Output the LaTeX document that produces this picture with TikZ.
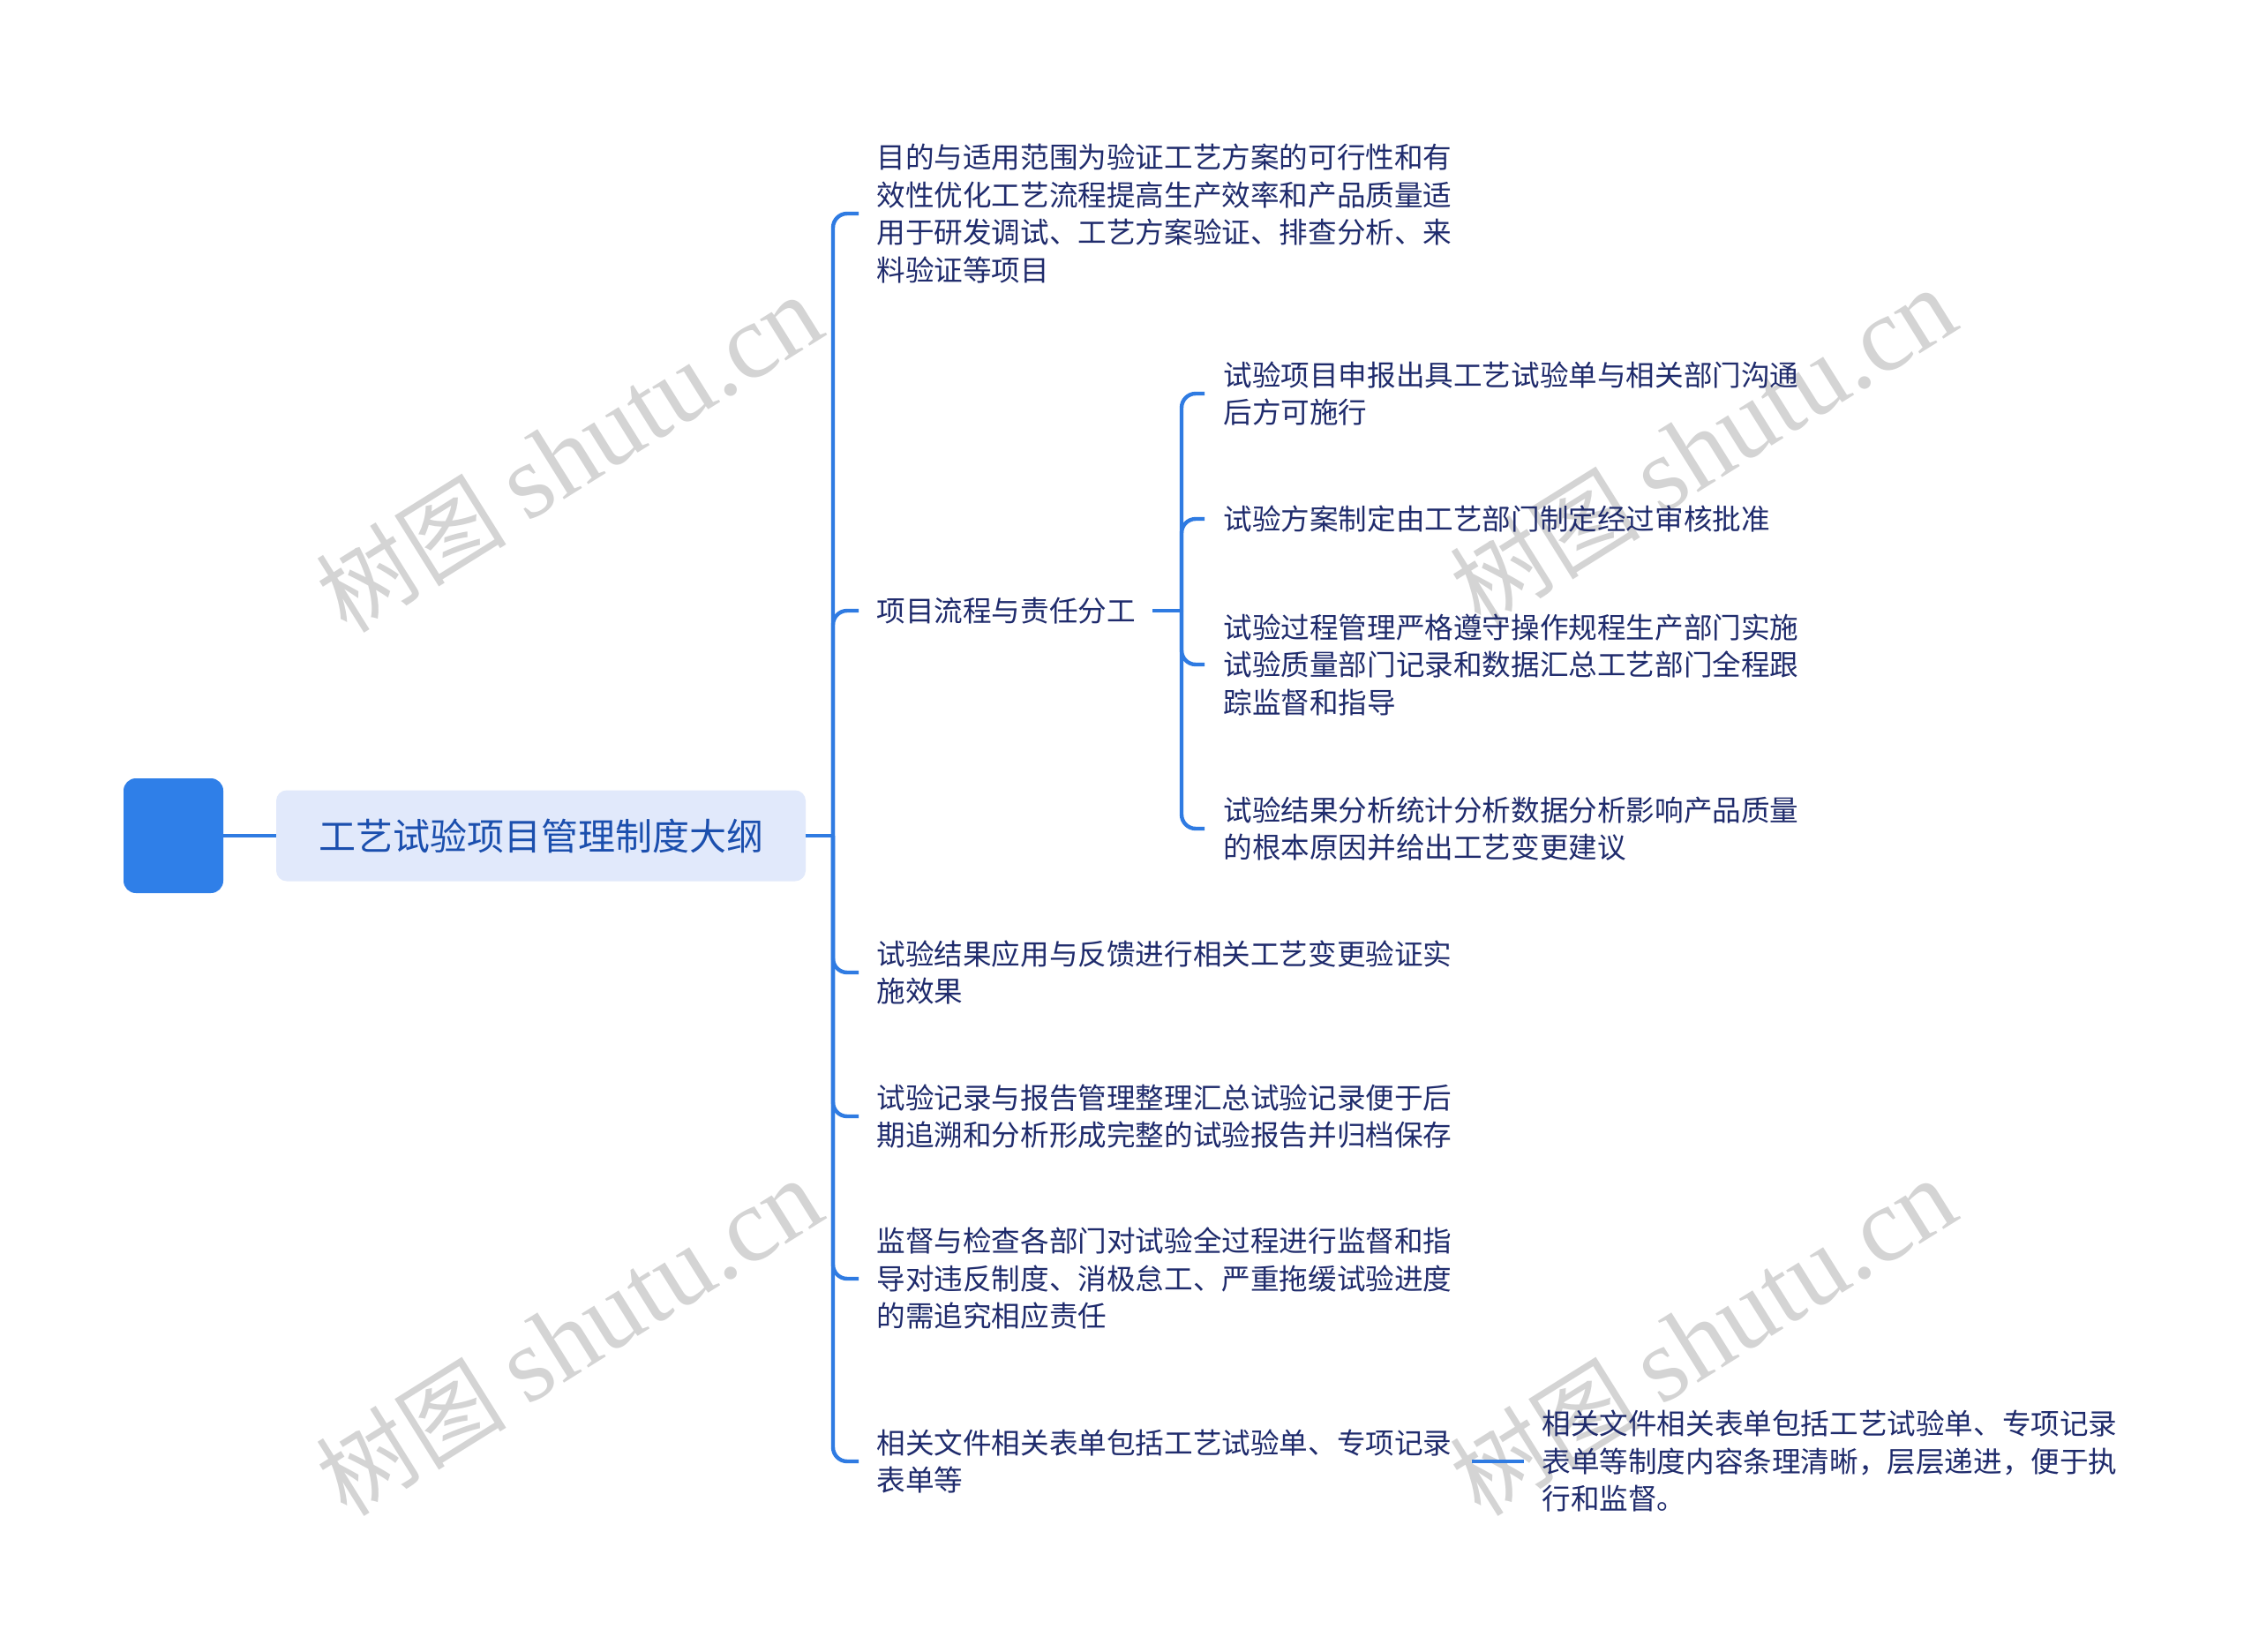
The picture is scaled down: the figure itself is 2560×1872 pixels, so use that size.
\documentclass[tikz,border=0pt]{standalone}
\usepackage{fontspec}
\newfontfamily\cjk{Noto Sans CJK SC}
\newfontfamily\wmlat{Liberation Serif}
\definecolor{lineblue}{HTML}{2F7BE2}
\definecolor{sqblue}{HTML}{2F7FE8}
\definecolor{titlefill}{HTML}{E1E9FB}
\definecolor{titletext}{HTML}{1B4FAE}
\definecolor{txtnavy}{HTML}{1F2B6C}
\definecolor{wmgray}{HTML}{D4D4D4}
\begin{document}
\begin{tikzpicture}[x=0.5pt,y=-0.5pt,
  conn/.style={draw=lineblue, line width=2.2pt, rounded corners=8pt},
  txt/.style={anchor=west, inner sep=0pt, align=left, text=txtnavy,
    font=\cjk\fontsize{16.3pt}{21.25pt}\selectfont},
  wm/.style={text=wmgray, rotate=32, inner sep=0pt}]
\useasboundingbox[fill=white] (0,0) rectangle (2560,1872);

% watermarks (behind everything)
\foreach \p [count=\k] in {(645,514),(1930,506),(645,1515),(1930,1515)}
  \node[wm] (wm\k) at \p {{\cjk\fontsize{54pt}{54pt}\selectfont 树图}\hspace{12pt}{\wmlat\fontsize{60pt}{60pt}\selectfont shutu.cn}};

% root and title
\node[fill=sqblue, rounded corners=7pt, minimum width=56.5pt, minimum height=65pt, inner sep=0pt] (sq) at (196.5,947) {};
\node[fill=titlefill, rounded corners=6pt, minimum width=300pt, minimum height=51.5pt, inner sep=0pt,
  text=titletext, font=\cjk\fontsize{21pt}{25pt}\selectfont] (title) at (613,947) {工艺试验项目管理制度大纲};

\coordinate (j) at (944,947);
\coordinate (j2) at (1339,692);

% first-level items
\node[txt] (i1) at (993,242) {目的与适用范围为验证工艺方案的可行性和有\\效性优化工艺流程提高生产效率和产品质量适\\用于研发调试、工艺方案验证、排查分析、来\\料验证等项目};
\node[txt] (i2) at (993,692) {项目流程与责任分工};
\node[txt] (i3) at (993,1102) {试验结果应用与反馈进行相关工艺变更验证实\\施效果};
\node[txt] (i4) at (993,1265) {试验记录与报告管理整理汇总试验记录便于后\\期追溯和分析形成完整的试验报告并归档保存};
\node[txt] (i5) at (993,1449) {监督与检查各部门对试验全过程进行监督和指\\导对违反制度、消极怠工、严重拖缓试验进度\\的需追究相应责任};
\node[txt] (i6) at (993,1656) {相关文件相关表单包括工艺试验单、专项记录\\表单等};

% second-level items
\node[txt] (s1) at (1386,446) {试验项目申报出具工艺试验单与相关部门沟通\\后方可施行};
\node[txt] (s2) at (1386,588) {试验方案制定由工艺部门制定经过审核批准};
\node[txt] (s3) at (1386,753) {试验过程管理严格遵守操作规程生产部门实施\\试验质量部门记录和数据汇总工艺部门全程跟\\踪监督和指导};
\node[txt] (s4) at (1386,939) {试验结果分析统计分析数据分析影响产品质量\\的根本原因并给出工艺变更建议};
\node[txt] (c6) at (1747,1656) {相关文件相关表单包括工艺试验单、专项记录\\表单等制度内容条理清晰，层层递进，便于执\\行和监督。};

% connectors
\draw[conn] (sq.east) -- (title.west);
\draw[conn] (title.east) -- (j);
\foreach \n in {i1,i2,i3,i4,i5,i6}
  \draw[conn] (j) |- ([xshift=-10pt]\n.west);
\draw[conn] ([xshift=9.5pt]i2.east) -- (j2);
\foreach \n in {s1,s2,s3,s4}
  \draw[conn] (j2) |- ([xshift=-10.5pt]\n.west);
\draw[conn] ([xshift=11pt]i6.east) -- ([xshift=-10pt]c6.west);
\end{tikzpicture}
\end{document}
